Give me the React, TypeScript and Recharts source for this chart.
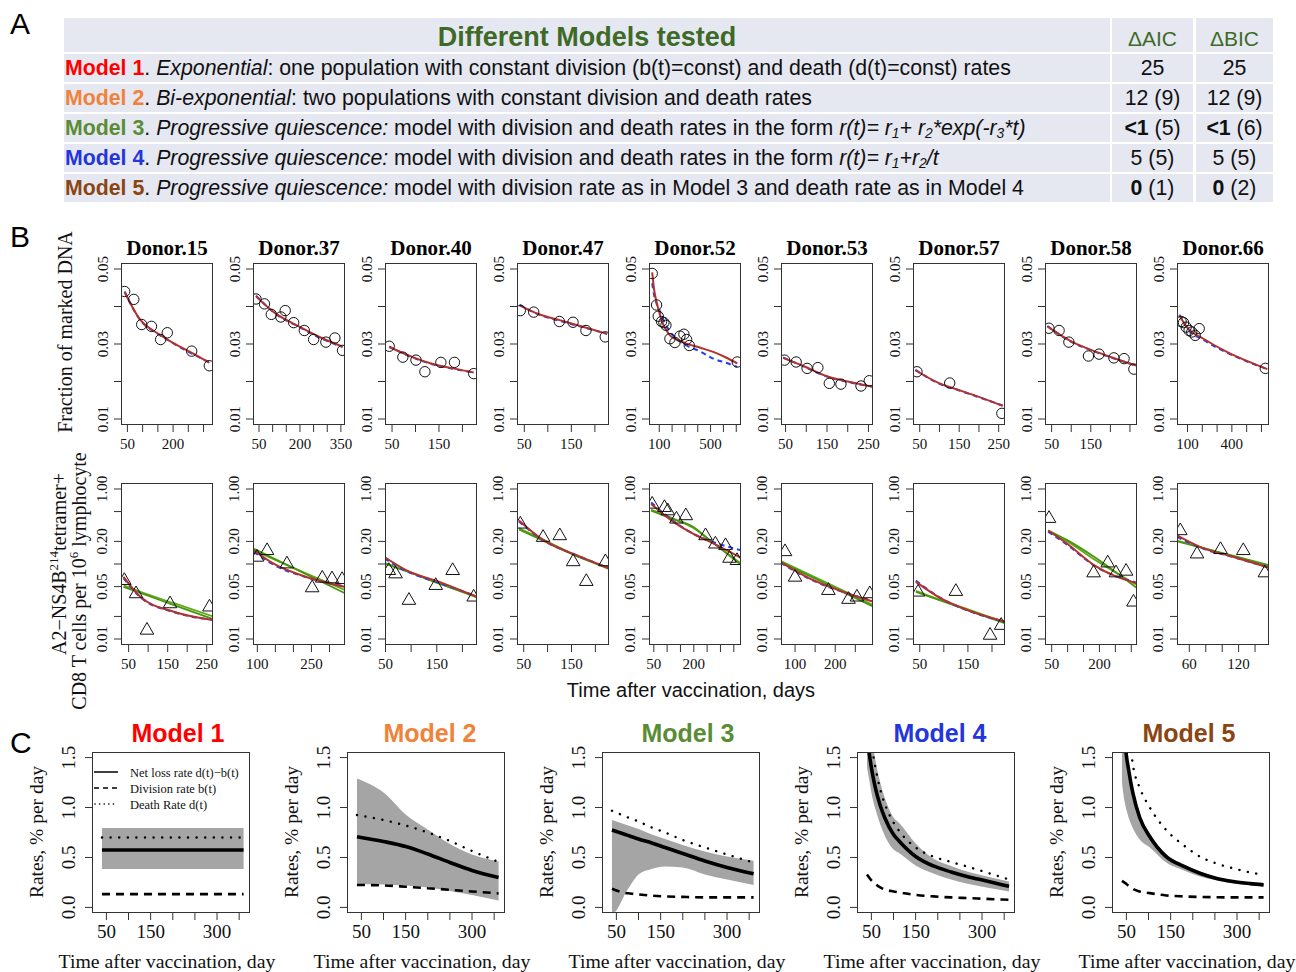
import React from "react";
import { Area, ComposedChart, Line, Scatter, XAxis, YAxis } from "recharts";

const SERIF = '"Liberation Serif", "Times New Roman", serif';
const SANS = '"Liberation Sans", Arial, sans-serif';

const donors = ["Donor.15", "Donor.37", "Donor.40", "Donor.47", "Donor.52", "Donor.53", "Donor.57", "Donor.58", "Donor.66"];

// B, top row: fraction of marked DNA (circles) + fitted curves
const dnaDays = [
  [41, 71, 97, 129, 159, 181, 261, 319],
  [39, 70, 95, 130, 146, 177, 216, 250, 295, 328, 356],
  [44, 73, 101, 120, 154, 183, 224],
  [41.5, 70, 124.5, 153.5, 181, 222],
  [45, 79, 92, 118, 136, 152, 183, 222, 261, 292, 313, 334, 708],
  [47.6, 75.6, 102, 128, 155.6, 183.6, 232, 252],
  [43, 126, 258],
  [43, 69, 94, 144, 171, 209, 235, 260],
  [57, 73, 91, 111, 129, 152, 179, 626],
];
const dnaFrac = [
  [0.044, 0.0419, 0.0352, 0.0347, 0.0312, 0.033, 0.0281, 0.0242],
  [0.042, 0.0407, 0.0379, 0.0372, 0.0389, 0.0357, 0.0336, 0.0312, 0.0305, 0.0316, 0.0283],
  [0.0294, 0.0265, 0.0257, 0.0226, 0.0251, 0.0251, 0.0221],
  [0.0389, 0.0385, 0.036, 0.0358, 0.0336, 0.0319],
  [0.0488, 0.0404, 0.0374, 0.036, 0.0357, 0.035, 0.0314, 0.0304, 0.0321, 0.0326, 0.0312, 0.0296, 0.0252],
  [0.0257, 0.0252, 0.0235, 0.0237, 0.0195, 0.0193, 0.0188, 0.0202],
  [0.0226, 0.0196, 0.0115],
  [0.0342, 0.0336, 0.0305, 0.0268, 0.0273, 0.0263, 0.0261, 0.0233],
  [0.036, 0.0357, 0.0345, 0.0336, 0.0332, 0.0323, 0.0341, 0.0235],
];
const dnaFitDays = [
  [41, 90, 150, 200, 260, 319],
  [39, 104, 201, 280, 356],
  [44, 90, 133, 180, 224],
  [40, 80, 127, 180, 226],
  [45, 60, 79, 100, 118, 150, 183, 250, 313, 420, 521, 620, 708],
  [44, 100, 150, 200, 261],
  [39, 100, 150, 200, 260],
  [39, 100, 154, 210, 268],
  [45, 100, 208, 366, 500, 640],
];
const dnaFitM5 = [
  [0.0438, 0.0367, 0.0328, 0.0303, 0.0277, 0.025],
  [0.0427, 0.0385, 0.0345, 0.0316, 0.0293],
  [0.0292, 0.0267, 0.0248, 0.0235, 0.0224],
  [0.0403, 0.038, 0.0363, 0.0344, 0.0327],
  [0.0491, 0.0445, 0.0412, 0.0385, 0.0363, 0.034, 0.0323, 0.031, 0.0301, 0.029, 0.0279, 0.0264, 0.0248],
  [0.0263, 0.0238, 0.0214, 0.02, 0.0186],
  [0.023, 0.0195, 0.0177, 0.0159, 0.0135],
  [0.0347, 0.0307, 0.0283, 0.0262, 0.0242],
  [0.0376, 0.0343, 0.0314, 0.0279, 0.0255, 0.0233],
];
const dnaFitM4 = [
  [0.044, 0.0366, 0.0327, 0.0302, 0.0275, 0.0251],
  [0.0429, 0.0384, 0.0344, 0.0314, 0.0292],
  [0.0293, 0.0266, 0.0247, 0.0234, 0.0224],
  [0.0405, 0.0379, 0.0361, 0.0343, 0.0327],
  [0.0462, 0.043, 0.0408, 0.0392, 0.0375, 0.0352, 0.0333, 0.031, 0.0296, 0.028, 0.0261, 0.025, 0.0239],
  [0.0264, 0.0237, 0.0213, 0.0199, 0.0186],
  [0.0231, 0.0194, 0.0176, 0.0158, 0.0136],
  [0.0348, 0.0306, 0.0282, 0.0261, 0.0242],
  [0.0378, 0.0341, 0.0311, 0.0277, 0.0254, 0.0233],
];

// B, bottom row: tetramer+ CD8 T cells (triangles) + fitted curves
const tetDays = [
  [39, 69, 97, 156, 257],
  [99, 127, 182, 252, 280, 307, 335],
  [56.5, 69.6, 95.7, 148, 181, 222],
  [43, 90.6, 125.5, 153.5, 181, 221],
  [44, 90, 102.5, 135, 170, 244, 281, 319, 334, 362],
  [75, 100, 183, 233, 254, 286],
  [46.5, 125, 196, 219],
  [41.6, 181.6, 226, 252, 283.7, 307],
  [49, 69.4, 98, 125.7, 152],
];
const tetFreq = [
  [0.0607, 0.0404, 0.0132, 0.0297, 0.0269],
  [0.124, 0.152, 0.101, 0.0485, 0.0652, 0.0639, 0.0626],
  [0.0824, 0.0744, 0.033, 0.0521, 0.0824, 0.0365],
  [0.343, 0.228, 0.24, 0.108, 0.0589, 0.108],
  [0.632, 0.571, 0.515, 0.4, 0.443, 0.24, 0.186, 0.177, 0.12, 0.112],
  [0.147, 0.0672, 0.0447, 0.034, 0.0365, 0.0404],
  [0.0425, 0.0434, 0.0113, 0.0153],
  [0.408, 0.0767, 0.104, 0.0767, 0.0807, 0.0313],
  [0.28, 0.137, 0.157, 0.152, 0.0767],
];
const tetFitDays = [
  [37, 80, 166, 266],
  [90, 145, 238, 344],
  [48, 91, 155, 228],
  [40, 92, 162, 230],
  [40, 125, 200, 250, 379],
  [64, 137, 221, 296],
  [42, 94, 149, 228],
  [39, 99, 184, 320],
  [45, 73.5, 114, 158],
];
const tetFitM5 = [
  [0.0672, 0.0365, 0.0231, 0.0179],
  [0.152, 0.101, 0.0667, 0.0494],
  [0.124, 0.0824, 0.0577, 0.0365],
  [0.38, 0.206, 0.13, 0.0867],
  [0.632, 0.361, 0.25, 0.206, 0.12],
  [0.106, 0.064, 0.0424, 0.0313],
  [0.0577, 0.0347, 0.0243, 0.017],
  [0.28, 0.186, 0.096, 0.0548],
  [0.24, 0.168, 0.124, 0.0885],
];
const tetFitM4 = [
  [0.065, 0.036, 0.0228, 0.018],
  [0.145, 0.098, 0.066, 0.05],
  [0.118, 0.08, 0.056, 0.037],
  [0.37, 0.205, 0.13, 0.088],
  [0.66, 0.37, 0.25, 0.21, 0.152],
  [0.104, 0.063, 0.042, 0.032],
  [0.06, 0.035, 0.024, 0.017],
  [0.27, 0.18, 0.095, 0.056],
  [0.23, 0.165, 0.123, 0.089],
];
const tetFitM3 = [
  [0.0495, 0.0411, 0.0283, 0.0184],
  [0.16, 0.119, 0.072, 0.0405],
  [0.101, 0.08, 0.0548, 0.037],
  [0.288, 0.203, 0.126, 0.0885],
  [0.515, 0.393, 0.31, 0.223, 0.096],
  [0.106, 0.069, 0.0419, 0.0269],
  [0.0425, 0.0324, 0.0243, 0.0161],
  [0.28, 0.208, 0.124, 0.047],
  [0.2, 0.166, 0.128, 0.096],
];
const tetFitM1 = [
  [0.052, 0.0425, 0.03, 0.02],
  [0.152, 0.116, 0.074, 0.0448],
  [0.104, 0.081, 0.055, 0.036],
  [0.3, 0.21, 0.128, 0.085],
  [0.53, 0.4, 0.3, 0.22, 0.1],
  [0.11, 0.072, 0.044, 0.028],
  [0.044, 0.033, 0.025, 0.0165],
  [0.27, 0.2, 0.115, 0.052],
  [0.205, 0.168, 0.126, 0.092],
];

// axis set-up for the donor panels
const dnaXDomain = [[29, 331], [28, 365], [35, 231], [34.5, 230], [20, 737], [39, 261], [33, 266], [33, 268], [29, 651]];
const dnaXTicks = [
  [50, 100, 150, 200, 250, 300], [50, 100, 150, 200, 250, 300, 350], [50, 100, 150, 200], [50, 100, 150, 200],
  [100, 200, 300, 400, 500, 600, 700], [50, 100, 150, 200, 250], [50, 100, 150, 200, 250], [50, 100, 150, 200, 250],
  [100, 200, 300, 400, 500, 600],
];
const dnaXLabels = [[50, 200], [50, 200, 350], [50, 150], [50, 150], [100, 500], [50, 150, 250], [50, 150, 250], [50, 150], [100, 400]];
const tetXDomain = [[30.5, 266], [88, 343], [49, 228.5], [36, 228.5], [32, 377], [65, 294], [36, 227], [29, 318], [45, 157]];
const tetXTicks = [
  [50, 100, 150, 200, 250], [100, 150, 200, 250, 300], [50, 100, 150, 200], [50, 100, 150, 200],
  [50, 100, 150, 200, 250, 300, 350], [100, 150, 200, 250], [50, 100, 150, 200], [50, 100, 150, 200, 250, 300],
  [60, 80, 100, 120, 140],
];
const tetXLabels = [[50, 150, 250], [100, 250], [50, 150], [50, 150], [50, 200], [100, 200], [50, 150], [50, 200], [60, 120]];
const dnaYTicks = [0.01, 0.02, 0.03, 0.04, 0.05];
const dnaYLabels: Record<string, string> = { "0.01": "0.01", "0.03": "0.03", "0.05": "0.05" };
const tetYTicks = [0.01, 0.02, 0.05, 0.1, 0.2, 0.5, 1];
const tetYLabels: Record<string, string> = { "0.01": "0.01", "0.05": "0.05", "0.2": "0.20", "1": "1.00" };

// C: estimated rates (% per day)
const models = ["Model 1", "Model 2", "Model 3", "Model 4", "Model 5"];
const rateDays = [
  [40, 360],
  [40, 100, 150, 200, 250, 300, 360],
  [40, 50, 60, 70, 80, 100, 130, 160, 200, 250, 300, 360],
  [40, 45, 50, 55, 60, 70, 80, 100, 114, 150, 190, 230, 270, 310, 361],
  [40, 45, 50, 55, 60, 65, 80, 103, 140, 180, 216, 250, 291, 330, 360],
];
const netLoss = [
  [0.575, 0.575],
  [0.708, 0.66, 0.61, 0.535, 0.45, 0.37, 0.3],
  [0.775, 0.76, 0.745, 0.73, 0.715, 0.685, 0.645, 0.6, 0.54, 0.465, 0.4, 0.336],
  [1.75, 1.55, 1.4, 1.28, 1.18, 1.02, 0.9, 0.73, 0.658, 0.51, 0.415, 0.355, 0.305, 0.265, 0.21],
  [2.0, 1.75, 1.52, 1.38, 1.25, 1.14, 0.9, 0.708, 0.509, 0.41, 0.342, 0.295, 0.259, 0.238, 0.226],
];
const divisionRate = [
  [0.133, 0.133],
  [0.225, 0.22, 0.207, 0.192, 0.176, 0.16, 0.14],
  [0.186, 0.17, 0.155, 0.145, 0.14, 0.13, 0.118, 0.11, 0.105, 0.1, 0.1, 0.1],
  [0.33, 0.3, 0.27, 0.25, 0.23, 0.2, 0.18, 0.16, 0.15, 0.125, 0.11, 0.1, 0.093, 0.085, 0.076],
  [0.265, 0.25, 0.235, 0.215, 0.2, 0.185, 0.16, 0.143, 0.12, 0.11, 0.105, 0.102, 0.1, 0.1, 0.1],
];
const deathRate = [
  [0.7, 0.7],
  [0.925, 0.875, 0.82, 0.75, 0.665, 0.565, 0.455],
  [0.968, 0.95, 0.93, 0.91, 0.895, 0.86, 0.8, 0.75, 0.675, 0.6, 0.53, 0.449],
  [2.1, 1.85, 1.66, 1.5, 1.38, 1.18, 1.04, 0.85, 0.758, 0.6, 0.509, 0.455, 0.405, 0.35, 0.28],
  [2.5, 2.2, 1.95, 1.75, 1.58, 1.42, 1.2, 1.0, 0.775, 0.62, 0.509, 0.445, 0.392, 0.35, 0.326],
];
const bandLow = [
  [0.385, 0.385],
  [0.235, 0.23, 0.22, 0.2, 0.165, 0.125, 0.07],
  [-0.06, -0.03, 0.05, 0.14, 0.21, 0.33, 0.385, 0.41, 0.4, 0.33, 0.28, 0.225],
  [1.4, 1.28, 1.15, 1.05, 0.97, 0.83, 0.72, 0.58, 0.54, 0.42, 0.34, 0.28, 0.235, 0.2, 0.16],
  [1.25, 1.08, 0.98, 0.9, 0.84, 0.79, 0.68, 0.6, 0.45, 0.37, 0.31, 0.275, 0.24, 0.222, 0.21],
];
const bandHigh = [
  [0.795, 0.795],
  [1.29, 1.15, 0.93, 0.78, 0.635, 0.53, 0.46],
  [0.875, 0.86, 0.845, 0.83, 0.815, 0.785, 0.73, 0.685, 0.625, 0.56, 0.51, 0.466],
  [2.2, 1.95, 1.75, 1.58, 1.45, 1.25, 1.1, 0.9, 0.84, 0.64, 0.49, 0.415, 0.355, 0.31, 0.26],
  [2.1, 1.85, 1.62, 1.45, 1.32, 1.2, 0.95, 0.74, 0.535, 0.43, 0.36, 0.31, 0.272, 0.248, 0.236],
];
const rateXTicks = [50, 100, 150, 200, 250, 300, 350];
const rateXLabels = [50, 150, 300];
const rateYTicks = [0, 0.5, 1, 1.5];
const rateYLabels: Record<string, string> = { "0": "0.0", "0.5": "0.5", "1": "1.0", "1.5": "1.5" };

// A: table
const aicMain = ["25", "12", "<1", "5", "0"];
const aicRest = ["", " (9)", " (5)", " (5)", " (1)"];
const bicMain = ["25", "12", "<1", "5", "0"];
const bicRest = ["", " (9)", " (6)", " (5)", " (2)"];
const boldScore = [false, false, true, false, true];

const MODEL_COLORS = ["#ff0000", "#f0823a", "#5a8c36", "#2335dc", "#8a4513"];
const GREEN_HEAD = "#3e6a27";
const RED_FIT = "#b3322c";
const BLUE_FIT = "#1f3cff";
const GREEN_FIT = "#48960c";
const GREEN_FIT2 = "#62a81e";

const pts = (ts: number[], vs: number[]) => ts.map((t, i) => ({ t, v: vs[i] }));

const ML = 44;
const MB = 36;
const MT = 24;
const MR = 24;

const xTick = (labels: number[], fs: number, gap: number) => (p: any) =>
  labels.includes(p.payload.value) ? (
    <text x={p.x} y={p.y + gap} textAnchor="middle" fontFamily={SERIF} fontSize={fs} fill="#111">
      {p.payload.value}
    </text>
  ) : (
    <g />
  );

const yTick = (labels: Record<string, string>, fs: number, gap: number) => (p: any) => {
  const lab = labels[String(p.payload.value)];
  if (!lab) return <g />;
  const x = p.x + gap;
  return (
    <text x={x} y={p.y} transform={`rotate(-90 ${x} ${p.y})`} textAnchor="middle" fontFamily={SERIF} fontSize={fs} fill="#111">
      {lab}
    </text>
  );
};

const circle = (p: any) => <circle cx={p.cx} cy={p.cy} r={5.2} fill="none" stroke="#111" strokeWidth={1} />;
const triangle = (p: any) => {
  const { cx, cy } = p;
  return (
    <polygon
      points={`${cx},${cy - 7.5} ${cx - 6.8},${cy + 4.2} ${cx + 6.8},${cy + 4.2}`}
      fill="none"
      stroke="#111"
      strokeWidth={1}
    />
  );
};

const BX0 = 121;
const BDX = 132;
const BW = 92;
const BH = 162;
const ROW_TOP = [263, 483];
const CX = [92, 347, 602, 857, 1112];
const CW = 158;
const CTOP = 752;
const CH = 161;

const Frame = ({ w, h }: { w: number; h: number }) => (
  <div
    style={{
      position: "absolute",
      left: ML,
      top: MT,
      width: w,
      height: h,
      border: "1px solid #333",
      boxSizing: "border-box",
      pointerEvents: "none",
    }}
  />
);

function DonorChart({ i, row }: { i: number; row: number }) {
  const left = BX0 + BDX * i;
  const top = ROW_TOP[row];
  const dna = row === 0;
  const fd = dna ? dnaFitDays[i] : tetFitDays[i];
  return (
    <div style={{ position: "absolute", left: left - ML, top: top - MT }}>
      <ComposedChart width={BW + ML + MR} height={BH + MT + MB} margin={{ top: MT, right: MR, left: 0, bottom: 0 }}>
        <XAxis
          type="number"
          dataKey="t"
          domain={dna ? dnaXDomain[i] : tetXDomain[i]}
          ticks={dna ? dnaXTicks[i] : tetXTicks[i]}
          interval={0}
          allowDataOverflow
          axisLine={false}
          tickSize={7}
          tickLine={{ stroke: "#333" }}
          height={MB}
          tick={xTick(dna ? dnaXLabels[i] : tetXLabels[i], 15, 14.5)}
        />
        <YAxis
          type="number"
          dataKey="v"
          scale={dna ? "linear" : "log"}
          domain={dna ? [0.0084, 0.0516] : [0.00832, 1.202]}
          ticks={dna ? dnaYTicks : tetYTicks}
          interval={0}
          allowDataOverflow
          axisLine={false}
          tickSize={7}
          tickLine={{ stroke: "#333" }}
          width={ML}
          tick={yTick(dna ? dnaYLabels : tetYLabels, 15, -4.5)}
        />
        {!dna && (
          <Line data={pts(fd, tetFitM1[i])} dataKey="v" type="monotone" stroke={GREEN_FIT2} strokeWidth={1.8} dot={false} isAnimationActive={false} />
        )}
        {!dna && (
          <Line data={pts(fd, tetFitM3[i])} dataKey="v" type="monotone" stroke={GREEN_FIT} strokeWidth={1.8} dot={false} isAnimationActive={false} />
        )}
        <Line
          data={pts(fd, dna ? dnaFitM4[i] : tetFitM4[i])}
          dataKey="v"
          type="monotone"
          stroke={BLUE_FIT}
          strokeWidth={2}
          strokeDasharray="5 4"
          dot={false}
          isAnimationActive={false}
        />
        <Line
          data={pts(fd, dna ? dnaFitM5[i] : tetFitM5[i])}
          dataKey="v"
          type="monotone"
          stroke={RED_FIT}
          strokeWidth={2}
          dot={false}
          isAnimationActive={false}
        />
        <Scatter
          data={dna ? pts(dnaDays[i], dnaFrac[i]) : pts(tetDays[i], tetFreq[i])}
          dataKey="v"
          shape={dna ? circle : triangle}
          isAnimationActive={false}
        />
      </ComposedChart>
      <Frame w={BW} h={BH} />
    </div>
  );
}

function RateChart({ m }: { m: number }) {
  const d = rateDays[m];
  const band = d.map((t, k) => ({ t, band: [bandLow[m][k], bandHigh[m][k]] }));
  return (
    <div style={{ position: "absolute", left: CX[m] - ML, top: CTOP - MT }}>
      <ComposedChart width={CW + ML + MR} height={CH + MT + MB} margin={{ top: MT, right: MR, left: 0, bottom: 0 }}>
        <XAxis
          type="number"
          dataKey="t"
          domain={[17.5, 374.5]}
          ticks={rateXTicks}
          interval={0}
          allowDataOverflow
          axisLine={false}
          tickSize={7}
          tickLine={{ stroke: "#333" }}
          height={MB}
          tick={xTick(rateXLabels, 19, 16)}
        />
        <YAxis
          type="number"
          dataKey="v"
          domain={[-0.056, 1.556]}
          ticks={rateYTicks}
          interval={0}
          allowDataOverflow
          axisLine={false}
          tickSize={7}
          tickLine={{ stroke: "#333" }}
          width={ML}
          tick={yTick(rateYLabels, 19, -8)}
        />
        <Area data={band} dataKey="band" type="monotone" fill="#a5a5a5" fillOpacity={1} stroke="none" isAnimationActive={false} />
        <Line data={pts(d, divisionRate[m])} dataKey="v" type="monotone" stroke="#000" strokeWidth={2.6} strokeDasharray="8 6" dot={false} isAnimationActive={false} />
        <Line
          data={pts(d, deathRate[m])}
          dataKey="v"
          type="monotone"
          stroke="#000"
          strokeWidth={2.4}
          strokeDasharray="0.1 8.5"
          strokeLinecap="round"
          dot={false}
          isAnimationActive={false}
        />
        <Line data={pts(d, netLoss[m])} dataKey="v" type="monotone" stroke="#000" strokeWidth={3.6} dot={false} isAnimationActive={false} />
      </ComposedChart>
      <Frame w={CW} h={CH} />
    </div>
  );
}

const sub = (s: string) => <sub style={{ fontSize: "0.65em", verticalAlign: "-0.22em", lineHeight: 0 }}>{s}</sub>;

const rowText = [
  <>
    <i>Exponential</i>: one population with constant division (b(t)=const) and death (d(t)=const) rates
  </>,
  <>
    <i>Bi-exponential</i>: two populations with constant division and death rates
  </>,
  <>
    <i>Progressive quiescence:</i> model with division and death rates in the form{" "}
    <i>
      r(t)= r{sub("1")}+ r{sub("2")}*exp(-r{sub("3")}*t)
    </i>
  </>,
  <>
    <i>Progressive quiescence:</i> model with division and death rates in the form{" "}
    <i>
      r(t)= r{sub("1")}+r{sub("2")}/t
    </i>
  </>,
  <>
    <i>Progressive quiescence:</i> model with division rate as in Model 3 and death rate as in Model 4
  </>,
];

function Table() {
  const BG = "#e6e8f1";
  const cols = [
    { left: 64, width: 1046 },
    { left: 1112, width: 81 },
    { left: 1196, width: 77 },
  ];
  const rowTops = [54, 84, 114, 144, 174];
  const cell = (c: number, top: number, h: number, content: React.ReactNode, extra: React.CSSProperties = {}) => (
    <div
      key={`${c}-${top}`}
      style={{
        position: "absolute",
        left: cols[c].left,
        top,
        width: cols[c].width,
        height: h,
        background: BG,
        lineHeight: `${h}px`,
        fontFamily: SANS,
        fontSize: 21.3,
        color: "#111",
        whiteSpace: "nowrap",
        textAlign: c === 0 ? "left" : "center",
        ...extra,
      }}
    >
      {content}
    </div>
  );
  const cells: React.ReactNode[] = [];
  cells.push(
    cell(0, 18, 34, "Different Models tested", { textAlign: "center", color: GREEN_HEAD, fontWeight: "bold", fontSize: 27, lineHeight: "38px" }),
  );
  cells.push(cell(1, 18, 34, "\u0394AIC", { color: GREEN_HEAD, fontSize: 21, lineHeight: "42px" }));
  cells.push(cell(2, 18, 34, "\u0394BIC", { color: GREEN_HEAD, fontSize: 21, lineHeight: "42px" }));
  rowTops.forEach((top, r) => {
    cells.push(
      cell(
        0,
        top,
        28,
        <span style={{ paddingLeft: 1 }}>
          <b style={{ color: MODEL_COLORS[r] }}>{models[r]}</b>. {rowText[r]}
        </span>,
      ),
    );
    cells.push(
      cell(
        1,
        top,
        28,
        <>
          {boldScore[r] ? <b>{aicMain[r]}</b> : aicMain[r]}
          {aicRest[r]}
        </>,
      ),
    );
    cells.push(
      cell(
        2,
        top,
        28,
        <>
          {boldScore[r] ? <b>{bicMain[r]}</b> : bicMain[r]}
          {bicRest[r]}
        </>,
      ),
    );
  });
  return <>{cells}</>;
}

function Labels() {
  const titleCenters = [178, 430, 688, 940, 1189];
  return (
    <svg width={1296} height={972} style={{ position: "absolute", left: 0, top: 0, pointerEvents: "none" }}>
      <text x={10} y={34} fontFamily={SANS} fontSize={30} fill="#000">A</text>
      <text x={10} y={247} fontFamily={SANS} fontSize={30} fill="#000">B</text>
      <text x={10} y={753} fontFamily={SANS} fontSize={30} fill="#000">C</text>

      {donors.map((d, i) => (
        <text key={d} x={BX0 + BDX * i + BW / 2} y={255} textAnchor="middle" fontFamily={SERIF} fontWeight="bold" fontSize={21} fill="#000">
          {d}
        </text>
      ))}

      <text x={72} y={332} transform="rotate(-90 72 332)" textAnchor="middle" fontFamily={SERIF} fontSize={20} fill="#111">
        Fraction of marked DNA
      </text>
      <text x={66} y={564} transform="rotate(-90 66 564)" textAnchor="middle" fontFamily={SERIF} fontSize={20} fill="#111">
        A2{"\u2212"}NS4B
        <tspan dy={-8} fontSize={13}>214</tspan>
        <tspan dy={8}>tetramer+</tspan>
      </text>
      <text x={85.5} y={581} transform="rotate(-90 85.5 581)" textAnchor="middle" fontFamily={SERIF} fontSize={20} fill="#111">
        CD8 T cells per 10
        <tspan dy={-8} fontSize={13}>6</tspan>
        <tspan dy={8}> lymphocyte</tspan>
      </text>
      <text x={691} y={697} textAnchor="middle" fontFamily={SANS} fontSize={20} fill="#111">
        Time after vaccination, days
      </text>

      {models.map((m, k) => (
        <g key={m}>
          <text x={titleCenters[k]} y={742} textAnchor="middle" fontFamily={SANS} fontWeight="bold" fontSize={25} fill={MODEL_COLORS[k]}>
            {m}
          </text>
          <text
            x={CX[k] - 49}
            y={832}
            transform={`rotate(-90 ${CX[k] - 49} 832)`}
            textAnchor="middle"
            fontFamily={SERIF}
            fontSize={19.5}
            fill="#111"
          >
            Rates, % per day
          </text>
          <text x={CX[k] + CW / 2 - 4} y={968} textAnchor="middle" fontFamily={SERIF} fontSize={19.8} fill="#111">
            Time after vaccination, day
          </text>
        </g>
      ))}

      <line x1={94} x2={118} y1={772} y2={772} stroke="#000" strokeWidth={1.5} />
      <line x1={94} x2={118} y1={788} y2={788} stroke="#000" strokeWidth={1.5} strokeDasharray="5 4" />
      <line x1={95} x2={118} y1={804} y2={804} stroke="#000" strokeWidth={1.6} strokeDasharray="0.1 4.5" strokeLinecap="round" />
      <text x={130} y={776.5} fontFamily={SERIF} fontSize={12.5} fill="#111">Net loss rate d(t){"\u2212"}b(t)</text>
      <text x={130} y={792.5} fontFamily={SERIF} fontSize={12.5} fill="#111">Division rate b(t)</text>
      <text x={130} y={808.5} fontFamily={SERIF} fontSize={12.5} fill="#111">Death Rate d(t)</text>
    </svg>
  );
}

export default function App() {
  return (
    <div style={{ position: "absolute", left: 0, top: 0, width: 1296, height: 972, background: "#fff", overflow: "hidden" }}>
      <Table />
      {donors.map((d, i) => (
        <React.Fragment key={d}>
          <DonorChart i={i} row={0} />
          <DonorChart i={i} row={1} />
        </React.Fragment>
      ))}
      {models.map((m, k) => (
        <RateChart key={m} m={k} />
      ))}
      <Labels />
    </div>
  );
}
